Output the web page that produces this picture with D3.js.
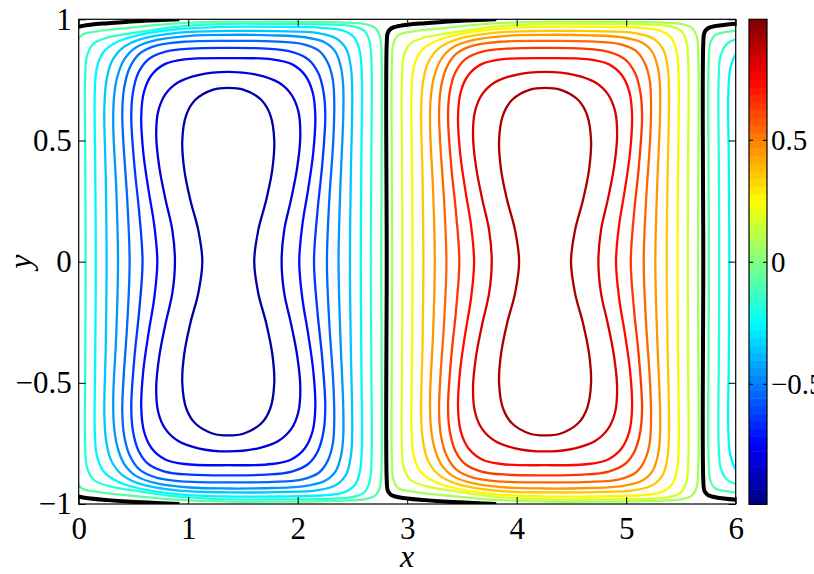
<!DOCTYPE html>
<html>
<head>
<meta charset="utf-8">
<script src="https://cdn.jsdelivr.net/npm/d3@7"></script>
<style>
  body { margin: 0; background: #fff; }
  svg text { font-family: "Liberation Serif", serif; }
</style>
</head>
<body>
<div id="chart"></div>
<script>
// ---- data ----
var xTicks = [0, 1, 2, 3, 4, 5, 6];
var yTicks = [-1, -0.5, 0, 0.5, 1];
var cTicks = [-0.5, 0, 0.5];
var colorRange = [-0.994, 0.994];

// contour levels (absolute value), innermost first
var levels = [0.91, 0.82, 0.73, 0.64, 0.55, 0.45, 0.36, 0.27, 0.18, 0.09];
// cell centres and sign of the stream function in each cell
var cellCenters = [1.366, 4.259, 7.152];
var cellSigns = [-1, 1, -1];
// x of the zero (black) line at the left wall of each cell
var zeroLines = [-0.081, 2.813, 5.704];

// upper-right quarter of each contour, [dx from cell centre, y], from y = 0 to the top
var profilesRight = [
    [[0.237, 0], [0.274, 0.13], [0.347, 0.255], [0.402, 0.38], [0.42, 0.50], [0.384, 0.605], [0.30, 0.668], [0.137, 0.71], [0, 0.717]],
    [[0.487, 0], [0.511, 0.13], [0.575, 0.26], [0.63, 0.39], [0.658, 0.52], [0.64, 0.62], [0.575, 0.69], [0.457, 0.74], [0.274, 0.77], [0, 0.783]],
    [[0.648, 0], [0.676, 0.15], [0.73, 0.30], [0.776, 0.45], [0.795, 0.60], [0.77, 0.70], [0.70, 0.77], [0.58, 0.815], [0.40, 0.835], [0, 0.84]],
    [[0.783, 0], [0.813, 0.2], [0.858, 0.4], [0.886, 0.6], [0.87, 0.70], [0.82, 0.78], [0.73, 0.835], [0.58, 0.866], [0.35, 0.879], [0, 0.882]],
    [[0.901, 0], [0.922, 0.25], [0.959, 0.5], [0.968, 0.65], [0.955, 0.75], [0.91, 0.82], [0.83, 0.87], [0.68, 0.898], [0.4, 0.909], [0, 0.911]],
    [[1.007, 0], [1.023, 0.3], [1.05, 0.6], [1.05, 0.72], [1.03, 0.8], [0.98, 0.865], [0.88, 0.905], [0.7, 0.926], [0.4, 0.934], [0, 0.936]],
    [[1.111, 0], [1.119, 0.35], [1.132, 0.7], [1.12, 0.8], [1.08, 0.875], [0.99, 0.92], [0.82, 0.943], [0.45, 0.951], [0, 0.952]],
    [[1.21, 0], [1.215, 0.4], [1.219, 0.78], [1.2, 0.87], [1.15, 0.925], [1.05, 0.953], [0.85, 0.965], [0.45, 0.969], [0, 0.969]],
    [[1.303, 0], [1.306, 0.4], [1.308, 0.82], [1.29, 0.91], [1.24, 0.953], [1.13, 0.972], [0.9, 0.979], [0.45, 0.981], [0, 0.981]],
    [[1.397, 0], [1.40, 0.4], [1.40, 0.84], [1.385, 0.93], [1.34, 0.965], [1.24, 0.981], [1.0, 0.987], [0.5, 0.99], [0, 0.99]]
];
// upper-left quarter (dx measured to the left), corners pushed down under the zero line
var profilesLeft = [
    profilesRight[0],
    profilesRight[1],
    profilesRight[2],
    profilesRight[3],
    [[0.901, 0], [0.922, 0.25], [0.959, 0.5], [0.968, 0.62], [0.95, 0.72], [0.9, 0.8], [0.81, 0.858], [0.65, 0.892], [0.38, 0.908], [0, 0.911]],
    [[1.007, 0], [1.023, 0.3], [1.05, 0.55], [1.045, 0.67], [1.015, 0.76], [0.95, 0.835], [0.84, 0.885], [0.65, 0.915], [0.35, 0.932], [0, 0.936]],
    [[1.111, 0], [1.119, 0.35], [1.132, 0.63], [1.115, 0.74], [1.07, 0.82], [0.97, 0.88], [0.8, 0.918], [0.45, 0.945], [0, 0.952]],
    [[1.21, 0], [1.215, 0.4], [1.219, 0.7], [1.2, 0.8], [1.14, 0.865], [1.02, 0.905], [0.82, 0.935], [0.45, 0.96], [0, 0.969]],
    [[1.303, 0], [1.306, 0.4], [1.308, 0.75], [1.29, 0.85], [1.23, 0.9], [1.1, 0.925], [0.85, 0.945], [0.45, 0.97], [0, 0.981]],
    [[1.397, 0], [1.40, 0.4], [1.40, 0.8], [1.385, 0.9], [1.34, 0.935], [1.2, 0.95], [0.9, 0.965], [0.5, 0.982], [0, 0.99]]
];
// upper half of the zero line, [dx from the wall, y]
var zeroProfile = [[0, 0], [0, 0.9], [0.01, 0.945], [0.04, 0.962], [0.12, 0.973], [0.35, 0.984], [0.65, 0.993], [1.0, 1.0]];

// ---- layout ----
var W = 814, H = 574;
var plot = {left: 78.7, right: 735.7, top: 19.3, bottom: 504};
var bar = {left: 749, right: 767, top: 19.3, bottom: 504.3};
var serif = '"Liberation Serif", serif';

var svg = d3.select('#chart').append('svg')
    .attr('width', W)
    .attr('height', H);

var x = d3.scaleLinear().domain([0, 6]).range([plot.left, plot.right]);
var y = d3.scaleLinear().domain([-1, 1]).range([plot.bottom, plot.top]);
var c = d3.scaleLinear().domain(colorRange).range([bar.bottom, bar.top]);

// MATLAB-like jet, 64 colours
var nColors = 64;
function jet(t) {
    var cl = function(v) { return Math.max(0, Math.min(1, v)); };
    var r = cl(1.5 - Math.abs(4 * t - 3)),
        g = cl(1.5 - Math.abs(4 * t - 2)),
        b = cl(1.5 - Math.abs(4 * t - 1));
    return d3.rgb(r * 255, g * 255, b * 255).formatHex();
}
var jetColors = d3.range(nColors).map(function(i) { return jet((i + 0.5) / nColors); });
function levelColor(v) {
    var i = Math.floor((v - colorRange[0]) / (colorRange[1] - colorRange[0]) * nColors);
    return jetColors[Math.max(0, Math.min(nColors - 1, i))];
}

svg.append('clipPath').attr('id', 'clip')
    .append('rect')
    .attr('x', plot.left).attr('y', plot.top)
    .attr('width', plot.right - plot.left).attr('height', plot.bottom - plot.top);

var g = svg.append('g').attr('clip-path', 'url(#clip)');

// closed loop from the right and left quarter profiles (mirrored top/bottom)
function loop(profR, profL, xc) {
    var pts = [];
    profR.forEach(function(p) { pts.push([xc + p[0], p[1]]); });
    profL.slice(0, -1).reverse().forEach(function(p) { pts.push([xc - p[0], p[1]]); });
    profL.slice(1).forEach(function(p) { pts.push([xc - p[0], -p[1]]); });
    profR.slice(1, -1).reverse().forEach(function(p) { pts.push([xc + p[0], -p[1]]); });
    return pts;
}

var closedLine = d3.line()
    .x(function(d) { return x(d[0]); })
    .y(function(d) { return y(d[1]); })
    .curve(d3.curveCatmullRomClosed.alpha(0.5));
var openLine = d3.line()
    .x(function(d) { return x(d[0]); })
    .y(function(d) { return y(d[1]); })
    .curve(d3.curveCatmullRom.alpha(0.5));

cellCenters.forEach(function(xc, ci) {
    levels.forEach(function(lv, li) {
        g.append('path')
            .attr('d', closedLine(loop(profilesRight[li], profilesLeft[li], xc)))
            .attr('fill', 'none')
            .attr('stroke', levelColor(cellSigns[ci] * lv))
            .attr('stroke-width', 2.3);
    });
});

// zero contour
zeroLines.forEach(function(xb) {
    var pts = zeroProfile.slice(1).reverse().map(function(p) { return [xb + p[0], -p[1]]; })
        .concat(zeroProfile.map(function(p) { return [xb + p[0], p[1]]; }));
    g.append('path')
        .attr('d', openLine(pts))
        .attr('fill', 'none')
        .attr('stroke', '#000')
        .attr('stroke-width', 4);
});

// box
svg.append('rect')
    .attr('x', plot.left).attr('y', plot.top)
    .attr('width', plot.right - plot.left).attr('height', plot.bottom - plot.top)
    .attr('fill', 'none').attr('stroke', '#000').attr('stroke-width', 1.2);

// ticks, inward on all four sides
var tl = 7;
var fmt = d3.format('~g');
var axB = svg.append('g').attr('transform', 'translate(0,' + plot.bottom + ')')
    .call(d3.axisBottom(x).tickValues(xTicks).tickSize(-tl).tickPadding(13).tickFormat(d3.format('d')));
var axT = svg.append('g').attr('transform', 'translate(0,' + plot.top + ')')
    .call(d3.axisTop(x).tickValues(xTicks).tickSize(-tl).tickFormat(''));
var axL = svg.append('g').attr('transform', 'translate(' + plot.left + ',0)')
    .call(d3.axisLeft(y).tickValues(yTicks).tickSize(-tl).tickPadding(7).tickFormat(fmt));
var axR = svg.append('g').attr('transform', 'translate(' + plot.right + ',0)')
    .call(d3.axisRight(y).tickValues(yTicks).tickSize(-tl).tickFormat(''));
[axB, axT, axL, axR].forEach(function(a) {
    a.attr('font-family', serif);
    a.select('.domain').remove();
    a.selectAll('line').attr('stroke', '#000');
    a.selectAll('text')
        .attr('fill', '#000')
        .attr('font-family', serif)
        .style('font-size', '31px');
});

// colorbar
var cellH = (bar.bottom - bar.top) / nColors;
svg.append('g').selectAll('rect')
    .data(jetColors)
    .enter().append('rect')
    .attr('x', bar.left)
    .attr('y', function(d, i) { return bar.bottom - (i + 1) * cellH; })
    .attr('width', bar.right - bar.left)
    .attr('height', cellH + 0.5)
    .attr('fill', function(d) { return d; });
svg.append('rect')
    .attr('x', bar.left).attr('y', bar.top)
    .attr('width', bar.right - bar.left).attr('height', bar.bottom - bar.top)
    .attr('fill', 'none').attr('stroke', '#000').attr('stroke-width', 1.2);
var cAx = svg.append('g').attr('transform', 'translate(' + bar.right + ',0)')
    .call(d3.axisRight(c).tickValues(cTicks).tickSize(-4).tickPadding(4).tickFormat(fmt));
svg.append('g').attr('transform', 'translate(' + bar.left + ',0)')
    .call(d3.axisLeft(c).tickValues(cTicks).tickSize(-4).tickFormat(''))
    .call(function(a) { a.select('.domain').remove(); a.selectAll('line').attr('stroke', '#000'); });
cAx.attr('font-family', serif);
cAx.select('.domain').remove();
cAx.selectAll('line').attr('stroke', '#000');
cAx.selectAll('text')
    .attr('fill', '#000')
    .attr('font-family', serif)
    .style('font-size', '29px');

// axis labels
svg.append('text')
    .attr('x', (plot.left + plot.right) / 2).attr('y', 567)
    .attr('text-anchor', 'middle')
    .attr('font-family', serif)
    .style('font-size', '32px').style('font-style', 'italic')
    .text('x');
svg.append('text')
    .attr('transform', 'translate(31,' + ((plot.top + plot.bottom) / 2) + ') rotate(-90)')
    .attr('text-anchor', 'middle')
    .attr('font-family', serif)
    .style('font-size', '32px').style('font-style', 'italic')
    .text('y');
</script>
</body>
</html>
